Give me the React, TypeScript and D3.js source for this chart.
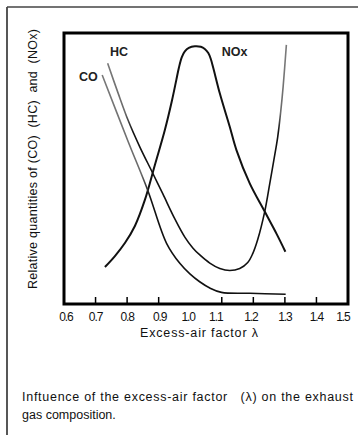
import React from "react";
import * as d3 from "d3";

// ---- data ----
const xTickValues = [0.7, 0.8, 0.9, 1.1, 1.2, 1.3, 1.4];
const xTickLabels = ["0.6", "0.7", "0.8", "0.9", "1.0", "1.1", "1.2", "1.3", "1.4", "1.5"];
const xLabelNudge = [2, 0, 0, 1, -2, -6, -2.5, 0, 0, -5];

const coLambda = [0.721, 0.8035, 0.865, 0.925, 0.967, 0.999, 1.03, 1.062, 1.099, 1.189, 1.3025];
const coValues = [84.5, 59.9, 42.1, 22.4, 15.0, 11.1, 8.2, 5.9, 4.3, 3.95, 3.6];

const hcLambda = [0.7383, 0.7709, 0.8035, 0.8405, 0.8794, 0.9133, 0.9513, 0.9829, 1.0082, 1.0304, 1.062, 1.0937, 1.1253, 1.157, 1.1823, 1.1981, 1.2139, 1.2361, 1.2519, 1.2646, 1.2772, 1.2867, 1.2946, 1.3047];
const hcValues = [88.8, 78.0, 67.7, 57.9, 48.7, 40.6, 31.4, 24.7, 20.7, 18.1, 15.1, 13.1, 12.35, 13.1, 15.3, 18.6, 23.8, 34.1, 44.3, 52.8, 61.6, 70.9, 80.4, 95.6];

const noxLambda = [0.7297, 0.7614, 0.793, 0.8247, 0.8563, 0.888, 0.9196, 0.9418, 0.956, 0.9639, 0.9734, 0.9829, 0.9956, 1.0146, 1.0335, 1.0462, 1.0573, 1.0652, 1.0731, 1.0937, 1.1253, 1.1465, 1.1886, 1.2361, 1.2741, 1.3016];
const noxValues = [13.65, 17.7, 22.5, 28.8, 38.4, 51.3, 64.2, 74.9, 82.7, 87.1, 91.1, 93.2, 94.5, 95.1, 94.9, 94.1, 92.6, 90.4, 87.1, 77.75, 65.4, 56.8, 44.5, 34.1, 25.8, 19.3];

const seriesLabels = [
  { name: "HC", lambda: 0.7456, value: 93 },
  { name: "CO", lambda: 0.6475, value: 83.8 },
  { name: "NOx", lambda: 1.1, value: 93 },
];

const yTitle = "Relative quantities of (CO)  (HC)  and  (NOx)";
const xTitle = "Excess-air factor λ";
const captionLines = ["Inftuence of the excess-air factor   (λ) on the exhaust", "gas composition."];

// ---- layout ----
const W = 358;
const H = 435;
const plot = { left: 64, right: 348, top: 33, bottom: 304 };

export default function App() {
  const x = d3.scaleLinear().domain([0.6, 1.5]).range([plot.left, plot.right]);
  const y = d3.scaleLinear().domain([0, 100]).range([plot.bottom, plot.bottom - 271]);

  const line = d3
    .line<[number, number]>()
    .x((d) => x(d[0]))
    .y((d) => y(d[1]))
    .curve(d3.curveCatmullRom.alpha(0.5));

  const co = line(coLambda.map((l, i) => [l, coValues[i]]) as [number, number][]) || "";
  const hc = line(hcLambda.map((l, i) => [l, hcValues[i]]) as [number, number][]) || "";
  const nox = line(noxLambda.map((l, i) => [l, noxValues[i]]) as [number, number][]) || "";

  const font = "'Liberation Sans', Arial, Helvetica, sans-serif";
  const labelPos = d3.range(0.6, 1.5001, 0.1);

  return (
    <svg
      width={W}
      height={H}
      viewBox={`0 0 ${W} ${H}`}
      style={{ position: "absolute", left: 0, top: 0, background: "#fff" }}
      fontFamily={font}
    >
      <defs>
        <linearGradient id="hcGrad" gradientUnits="userSpaceOnUse" x1="0" y1="60" x2="0" y2="300">
          <stop offset="0" stopColor="#7a7a7a" />
          <stop offset="0.22" stopColor="#6a6a6a" />
          <stop offset="0.3" stopColor="#111" />
          <stop offset="1" stopColor="#111" />
        </linearGradient>
        <linearGradient id="coGrad" gradientUnits="userSpaceOnUse" x1="0" y1="70" x2="0" y2="300">
          <stop offset="0" stopColor="#7a7a7a" />
          <stop offset="0.45" stopColor="#6a6a6a" />
          <stop offset="0.55" stopColor="#111" />
          <stop offset="1" stopColor="#111" />
        </linearGradient>
      </defs>

      {/* outer frame (top and left only visible) */}
      <line x1={7} y1={7} x2={W} y2={7} stroke="#444" strokeWidth={1.6} />
      <line x1={7} y1={7} x2={7} y2={H} stroke="#444" strokeWidth={1.8} />

      {/* curves */}
      <path d={nox} fill="none" stroke="#111" strokeWidth={2} strokeLinejoin="round" />
      <path d={hc} fill="none" stroke="url(#hcGrad)" strokeWidth={1.6} strokeLinejoin="round" />
      <path d={co} fill="none" stroke="url(#coGrad)" strokeWidth={1.6} strokeLinejoin="round" />

      {/* plot frame */}
      <rect
        x={plot.left}
        y={plot.top}
        width={plot.right - plot.left}
        height={plot.bottom - plot.top}
        fill="none"
        stroke="#000"
        strokeWidth={3}
      />

      {/* ticks */}
      {xTickValues.map((t) => (
        <line key={t} x1={x(t)} x2={x(t)} y1={plot.bottom} y2={plot.bottom - 7} stroke="#000" strokeWidth={1.5} />
      ))}
      {xTickLabels.map((lab, i) => (
        <text
          key={lab}
          x={x(labelPos[i]) + xLabelNudge[i]}
          y={320.5}
          fontSize={12}
          letterSpacing={-1.1}
          textAnchor="middle"
          fill="#111"
        >
          {lab}
        </text>
      ))}

      {/* axis titles */}
      <text x={199} y={337.3} fontSize={12.5} textAnchor="middle" textLength={118} lengthAdjust="spacing" fill="#111">
        {xTitle}
      </text>
      <text
        transform="translate(33,159) rotate(-90)"
        fontSize={12.5}
        textAnchor="middle"
        dominantBaseline="central"
        textLength={260}
        lengthAdjust="spacing"
        fill="#111"
        style={{ whiteSpace: "pre" }}
      >
        {yTitle}
      </text>

      {/* series labels */}
      {seriesLabels.map((s) => (
        <text
          key={s.name}
          x={x(s.lambda)}
          y={y(s.value)}
          fontSize={12.5}
          fontWeight={700}
          fill="#222"
          dominantBaseline="central"
        >
          {s.name}
        </text>
      ))}

      {/* caption */}
      {captionLines.map((c, i) => (
        <text
          key={i}
          x={22}
          y={401 + i * 18}
          fontSize={12.5}
          fill="#111"
          style={{ whiteSpace: "pre" }}
          {...(i === 0 ? { textLength: 331, lengthAdjust: "spacing" } : {})}
        >
          {c}
        </text>
      ))}
    </svg>
  );
}
